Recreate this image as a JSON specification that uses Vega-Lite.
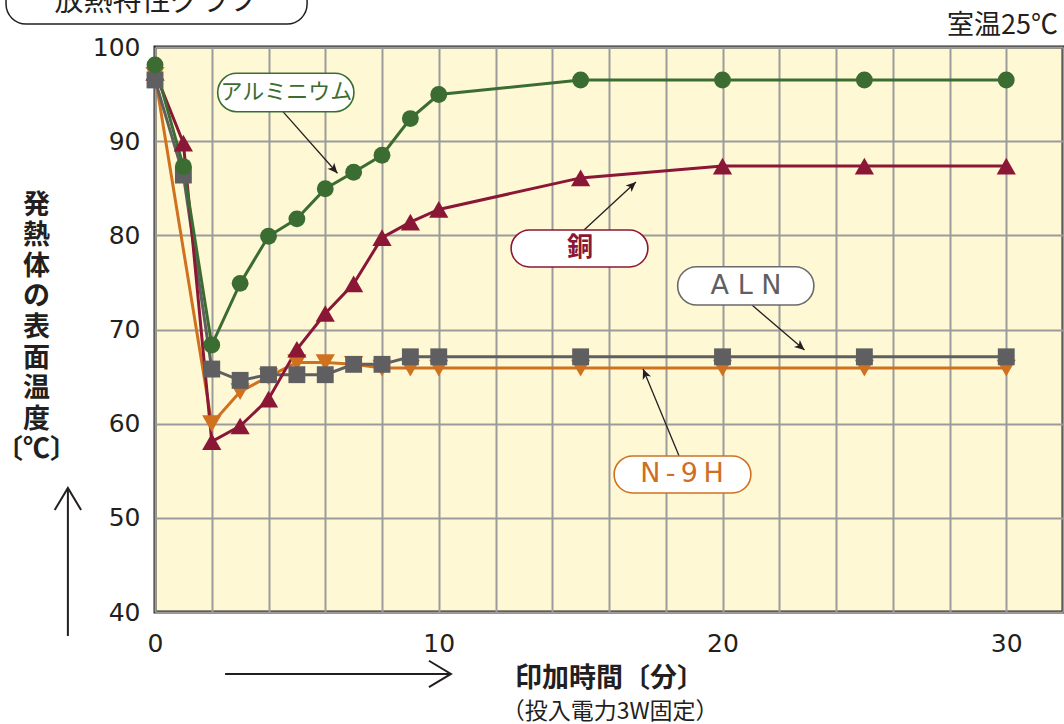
{
  "$schema": "https://vega.github.io/schema/vega-lite/v6.json",
  "width": 908,
  "height": 565,
  "autosize": {"type": "none"},
  "padding": {"left": 155, "top": 47, "right": 1, "bottom": 112},
  "background": "white",
  "config": {
    "view": {"fill": "#fff8d5", "stroke": "#231f20", "strokeWidth": 3},
    "axis": {
      "grid": true, "gridColor": "#9b9b9b", "gridWidth": 2, "domain": false, "ticks": false, "tickSize": 0,
      "labelFont": "DejaVu Sans", "labelFontSize": 25, "labelColor": "#231f20", "labelFlush": false, "labelOverlap": false,
      "titleColor": "#231f20", "titleFont": "Noto Sans CJK JP", "titleFontWeight": "bold", "titleFontSize": 27
    },
    "axisX": {"labelPadding": 19, "titleY": 66, "titleBaseline": "middle"},
    "axisY": {"labelPadding": 15, "titleAngle": 0, "titleX": -119, "titleY": 145, "titleAlign": "center", "titleBaseline": "top", "titleLineHeight": 30.6}
  },
  "datasets": {
    "series": [
      {"s": "N-9H", "t": 0, "v": 97.0},
      {"s": "N-9H", "t": 2, "v": 60.0},
      {"s": "N-9H", "t": 3, "v": 63.4},
      {"s": "N-9H", "t": 4, "v": 65.0},
      {"s": "N-9H", "t": 5, "v": 66.5},
      {"s": "N-9H", "t": 6, "v": 66.5},
      {"s": "N-9H", "t": 7, "v": 66.3},
      {"s": "N-9H", "t": 8, "v": 65.9},
      {"s": "N-9H", "t": 9, "v": 65.9},
      {"s": "N-9H", "t": 10, "v": 65.9},
      {"s": "N-9H", "t": 15, "v": 65.9},
      {"s": "N-9H", "t": 20, "v": 65.9},
      {"s": "N-9H", "t": 25, "v": 65.9},
      {"s": "N-9H", "t": 30, "v": 65.9},
      {"s": "ALN", "t": 0, "v": 96.5},
      {"s": "ALN", "t": 1, "v": 86.4},
      {"s": "ALN", "t": 2, "v": 65.8},
      {"s": "ALN", "t": 3, "v": 64.6},
      {"s": "ALN", "t": 4, "v": 65.2},
      {"s": "ALN", "t": 5, "v": 65.2},
      {"s": "ALN", "t": 6, "v": 65.2},
      {"s": "ALN", "t": 7, "v": 66.3},
      {"s": "ALN", "t": 8, "v": 66.3},
      {"s": "ALN", "t": 9, "v": 67.1},
      {"s": "ALN", "t": 10, "v": 67.1},
      {"s": "ALN", "t": 15, "v": 67.1},
      {"s": "ALN", "t": 20, "v": 67.1},
      {"s": "ALN", "t": 25, "v": 67.1},
      {"s": "ALN", "t": 30, "v": 67.1},
      {"s": "銅", "t": 0, "v": 97.3},
      {"s": "銅", "t": 1, "v": 89.8},
      {"s": "銅", "t": 2, "v": 58.1},
      {"s": "銅", "t": 3, "v": 59.75},
      {"s": "銅", "t": 4, "v": 62.6},
      {"s": "銅", "t": 5, "v": 67.9},
      {"s": "銅", "t": 6, "v": 71.7},
      {"s": "銅", "t": 7, "v": 74.85},
      {"s": "銅", "t": 8, "v": 79.75},
      {"s": "銅", "t": 9, "v": 81.4},
      {"s": "銅", "t": 10, "v": 82.75},
      {"s": "銅", "t": 15, "v": 86.1},
      {"s": "銅", "t": 20, "v": 87.35},
      {"s": "銅", "t": 25, "v": 87.35},
      {"s": "銅", "t": 30, "v": 87.35},
      {"s": "アルミニウム", "t": 0, "v": 98.1},
      {"s": "アルミニウム", "t": 1, "v": 87.3},
      {"s": "アルミニウム", "t": 2, "v": 68.35},
      {"s": "アルミニウム", "t": 3, "v": 74.9},
      {"s": "アルミニウム", "t": 4, "v": 79.9},
      {"s": "アルミニウム", "t": 5, "v": 81.75},
      {"s": "アルミニウム", "t": 6, "v": 84.95},
      {"s": "アルミニウム", "t": 7, "v": 86.7},
      {"s": "アルミニウム", "t": 8, "v": 88.5},
      {"s": "アルミニウム", "t": 9, "v": 92.4},
      {"s": "アルミニウム", "t": 10, "v": 94.95},
      {"s": "アルミニウム", "t": 15, "v": 96.5},
      {"s": "アルミニウム", "t": 20, "v": 96.5},
      {"s": "アルミニウム", "t": 25, "v": 96.5},
      {"s": "アルミニウム", "t": 30, "v": 96.5}
    ],
    "notes": [
      {"s": "アルミニウム", "label": "アルミニウム", "t": 2.21, "t2": 7.01, "v": 97.21, "v2": 93.13, "tc": 4.63, "vc": 95.17},
      {"s": "銅", "label": "銅", "t": 12.55, "t2": 17.37, "v": 80.57, "v2": 76.64, "tc": 14.98, "vc": 78.65},
      {"s": "ALN", "label": "A L N", "t": 18.42, "t2": 23.22, "v": 76.67, "v2": 72.6, "tc": 20.83, "vc": 74.62},
      {"s": "N-9H", "label": "N\u2009-\u20099\u2009H", "t": 16.18, "t2": 21.0, "v": 56.57, "v2": 52.64, "tc": 18.57, "vc": 54.66}
    ],
    "arrows": [
      {"id": "al", "t": 4.51, "v": 93.13, "t2": 6.43, "v2": 86.59},
      {"id": "cu", "t": 15.12, "v": 80.57, "t2": 16.95, "v2": 85.66},
      {"id": "aln", "t": 21.04, "v": 72.6, "t2": 22.89, "v2": 67.82},
      {"id": "n9h", "t": 18.47, "v": 56.57, "t2": 17.2, "v2": 65.81},
      {"id": "yaxis", "t": -3.07, "v": 37.45, "t2": -3.07, "v2": 53.17},
      {"id": "xaxis", "t": 2.47, "v": 33.42, "t2": 10.43, "v2": 33.42}
    ],
    "captions": [
      {"id": "title", "text": "放熱特性グラフ", "t": 0.035, "v": 104.78, "t0": -5.25, "t2": 5.36, "v0": 102.44, "v2": 107.1},
      {"id": "room", "text": "室温25℃", "t": 31.82, "v": 101.38},
      {"id": "sub", "text": "（投入電力3W固定）", "t": 16.04, "v": 29.4}
    ]
  },
  "encoding": {
    "x": {"field": "t", "type": "quantitative", "scale": {"domain": [0, 32], "nice": false, "zero": false}},
    "y": {"field": "v", "type": "quantitative", "scale": {"domain": [40, 100], "nice": false, "zero": false}}
  },
  "layer": [
    {
      "data": {"name": "series"},
      "mark": {"type": "line", "strokeWidth": 3},
      "encoding": {
        "x": {"field": "t", "type": "quantitative", "title": "印加時間〔分〕",
          "axis": {"values": [0, 2, 4, 6, 8, 10, 12, 14, 16, 18, 20, 22, 24, 26, 28, 30, 32], "labelExpr": "datum.value % 10 === 0 ? datum.label : ''"}},
        "y": {"field": "v", "type": "quantitative", "title": ["発", "熱", "体", "の", "表", "面", "温", "度", "〔℃〕"],
          "axis": {"values": [40, 50, 60, 70, 80, 90, 100]}},
        "color": {"field": "s", "type": "nominal", "legend": null,
          "scale": {"domain": ["N-9H", "ALN", "銅", "アルミニウム"], "range": ["#d0711f", "#5f5f61", "#8a1736", "#3b6d32"]}},
        "order": {"field": "t", "type": "quantitative"}
      }
    },
    {
      "data": {"name": "series"},
      "transform": [{"filter": "datum.s === 'N-9H' || datum.s === '銅'"}],
      "mark": {"type": "point", "filled": true, "opacity": 1, "size": 370},
      "encoding": {
        "color": {"field": "s", "type": "nominal", "legend": null},
        "shape": {"field": "s", "type": "nominal", "legend": null,
          "scale": {"domain": ["N-9H", "ALN", "銅", "アルミニウム"], "range": ["triangle-down", "square", "triangle-up", "circle"]}}
      }
    },
    {
      "data": {"name": "series"},
      "transform": [{"filter": "datum.s === 'ALN' || datum.s === 'アルミニウム'"}],
      "mark": {"type": "point", "filled": true, "opacity": 1, "size": 285},
      "encoding": {
        "color": {"field": "s", "type": "nominal", "legend": null},
        "shape": {"field": "s", "type": "nominal", "legend": null}
      }
    },
    {
      "data": {"name": "arrows"},
      "transform": [{"filter": "datum.id !== 'yaxis' && datum.id !== 'xaxis'"}],
      "mark": {"type": "rule", "color": "#231f20", "strokeWidth": 1.3},
      "encoding": {"x2": {"field": "t2"}, "y2": {"field": "v2"}}
    },
    {
      "data": {"name": "arrows"},
      "transform": [{"filter": "datum.id === 'yaxis' || datum.id === 'xaxis'"}],
      "mark": {"type": "rule", "color": "#231f20", "strokeWidth": 2},
      "encoding": {"x2": {"field": "t2"}, "y2": {"field": "v2"}}
    },
    {
      "data": {"name": "arrows"},
      "transform": [{"filter": "datum.id === 'al'"}],
      "mark": {"type": "point", "shape": "M0,0L-0.45,1L0,0.75L0.45,1Z", "size": 400, "filled": true, "opacity": 1, "color": "#231f20", "angle": 138.4},
      "encoding": {"x": {"field": "t2", "type": "quantitative"}, "y": {"field": "v2", "type": "quantitative"}}
    },
    {
      "data": {"name": "arrows"},
      "transform": [{"filter": "datum.id === 'cu'"}],
      "mark": {"type": "point", "shape": "M0,0L-0.45,1L0,0.75L0.45,1Z", "size": 400, "filled": true, "opacity": 1, "color": "#231f20", "angle": 47.9},
      "encoding": {"x": {"field": "t2", "type": "quantitative"}, "y": {"field": "v2", "type": "quantitative"}}
    },
    {
      "data": {"name": "arrows"},
      "transform": [{"filter": "datum.id === 'aln'"}],
      "mark": {"type": "point", "shape": "M0,0L-0.45,1L0,0.75L0.45,1Z", "size": 400, "filled": true, "opacity": 1, "color": "#231f20", "angle": 130.5},
      "encoding": {"x": {"field": "t2", "type": "quantitative"}, "y": {"field": "v2", "type": "quantitative"}}
    },
    {
      "data": {"name": "arrows"},
      "transform": [{"filter": "datum.id === 'n9h'"}],
      "mark": {"type": "point", "shape": "M0,0L-0.45,1L0,0.75L0.45,1Z", "size": 400, "filled": true, "opacity": 1, "color": "#231f20", "angle": -22.7},
      "encoding": {"x": {"field": "t2", "type": "quantitative"}, "y": {"field": "v2", "type": "quantitative"}}
    },
    {
      "data": {"name": "arrows"},
      "transform": [{"filter": "datum.id === 'yaxis'"}],
      "mark": {"type": "point", "shape": "M-0.6,1L0,0L0.6,1", "size": 1936, "filled": false, "opacity": 1, "color": "#231f20", "strokeWidth": 2, "angle": 0},
      "encoding": {"x": {"field": "t2", "type": "quantitative"}, "y": {"field": "v2", "type": "quantitative"}}
    },
    {
      "data": {"name": "arrows"},
      "transform": [{"filter": "datum.id === 'xaxis'"}],
      "mark": {"type": "point", "shape": "M-0.6,1L0,0L0.6,1", "size": 1936, "filled": false, "opacity": 1, "color": "#231f20", "strokeWidth": 2, "angle": 90},
      "encoding": {"x": {"field": "t2", "type": "quantitative"}, "y": {"field": "v2", "type": "quantitative"}}
    },
    {
      "data": {"name": "notes"},
      "mark": {"type": "rect", "fill": "white", "strokeWidth": 1.6, "cornerRadius": 19},
      "encoding": {
        "x2": {"field": "t2"}, "y2": {"field": "v2"},
        "stroke": {"field": "s", "type": "nominal", "legend": null,
          "scale": {"domain": ["N-9H", "ALN", "銅", "アルミニウム"], "range": ["#d0711f", "#6a6a6c", "#8a1736", "#3b6d32"]}}
      }
    },
    {
      "data": {"name": "notes"},
      "transform": [{"filter": "datum.s === 'アルミニウム'"}],
      "mark": {"type": "text", "font": "Noto Sans CJK JP", "fontSize": 22, "baseline": "middle", "align": "center", "color": "#3b6d32"},
      "encoding": {"x": {"field": "tc", "type": "quantitative"}, "y": {"field": "vc", "type": "quantitative"}, "text": {"field": "label"}}
    },
    {
      "data": {"name": "notes"},
      "transform": [{"filter": "datum.s === '銅'"}],
      "mark": {"type": "text", "font": "Noto Sans CJK JP", "fontSize": 26, "fontWeight": "bold", "baseline": "middle", "align": "center", "color": "#8a1736"},
      "encoding": {"x": {"field": "tc", "type": "quantitative"}, "y": {"field": "vc", "type": "quantitative"}, "text": {"field": "label"}}
    },
    {
      "data": {"name": "notes"},
      "transform": [{"filter": "datum.s === 'ALN'"}],
      "mark": {"type": "text", "font": "DejaVu Sans", "fontSize": 27, "baseline": "middle", "align": "center", "color": "#5f5f61"},
      "encoding": {"x": {"field": "tc", "type": "quantitative"}, "y": {"field": "vc", "type": "quantitative"}, "text": {"field": "label"}}
    },
    {
      "data": {"name": "notes"},
      "transform": [{"filter": "datum.s === 'N-9H'"}],
      "mark": {"type": "text", "font": "DejaVu Sans", "fontSize": 27, "baseline": "middle", "align": "center", "color": "#cf6f1f"},
      "encoding": {"x": {"field": "tc", "type": "quantitative"}, "y": {"field": "vc", "type": "quantitative"}, "text": {"field": "label"}}
    },
    {
      "data": {"name": "captions"},
      "transform": [{"filter": "datum.id === 'title'"}],
      "mark": {"type": "rect", "fill": "white", "stroke": "#231f20", "strokeWidth": 1.5, "cornerRadius": 20},
      "encoding": {"x": {"field": "t0", "type": "quantitative"}, "x2": {"field": "t2"}, "y": {"field": "v0", "type": "quantitative"}, "y2": {"field": "v2"}}
    },
    {
      "data": {"name": "captions"},
      "transform": [{"filter": "datum.id === 'title'"}],
      "mark": {"type": "text", "font": "Noto Sans CJK JP", "fontSize": 29, "baseline": "middle", "align": "center", "color": "#231f20"},
      "encoding": {"text": {"field": "text"}}
    },
    {
      "data": {"name": "captions"},
      "transform": [{"filter": "datum.id === 'room'"}],
      "mark": {"type": "text", "font": "Noto Sans CJK JP", "fontSize": 27, "baseline": "alphabetic", "align": "right", "color": "#231f20"},
      "encoding": {"text": {"field": "text"}}
    },
    {
      "data": {"name": "captions"},
      "transform": [{"filter": "datum.id === 'sub'"}],
      "mark": {"type": "text", "font": "Noto Sans CJK JP", "fontSize": 23, "baseline": "middle", "align": "center", "color": "#231f20"},
      "encoding": {"text": {"field": "text"}}
    }
  ]
}
